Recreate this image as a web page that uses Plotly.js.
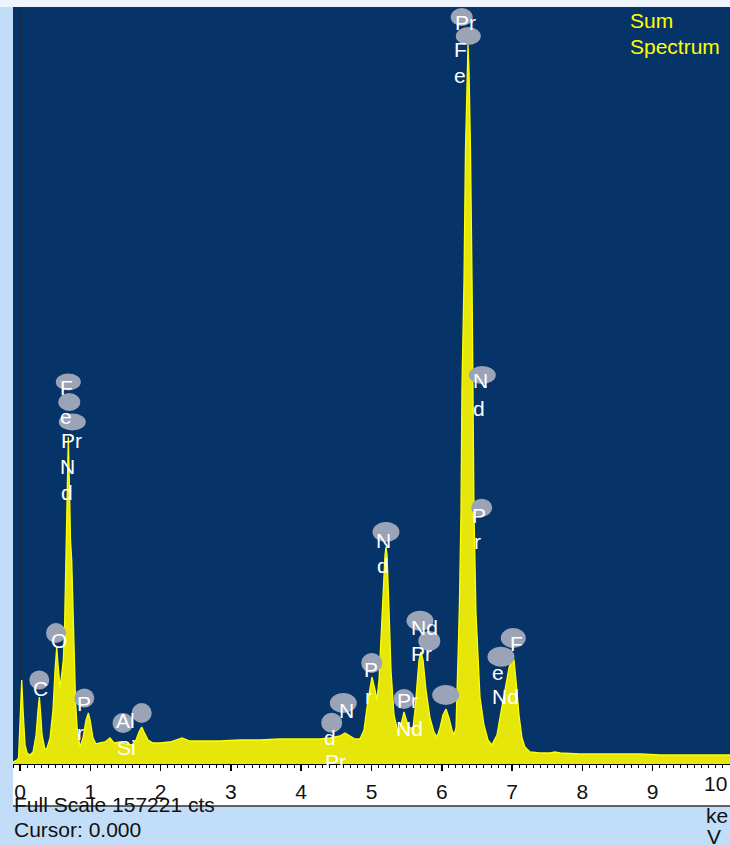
<!DOCTYPE html>
<html>
<head>
<meta charset="utf-8">
<script src="https://cdn.plot.ly/plotly-3.0.1.min.js"></script>
<style>
  html, body { margin: 0; padding: 0; background: #C2DDF8; }
  #chart { width: 730px; height: 845px; }
</style>
</head>
<body>
<div id="chart"></div>
<script>
// ---- Data ----
const energyKeV = [
  -0.100, -0.043, -0.021, 0.007, 0.024, 0.043, 0.071, 0.100, 0.142, 0.185,
  0.228, 0.256, 0.275, 0.292, 0.313, 0.356, 0.384, 0.427, 0.469, 0.498,
  0.522, 0.541, 0.569, 0.597, 0.616, 0.633, 0.654, 0.673, 0.687, 0.701,
  0.718, 0.735, 0.754, 0.768, 0.789, 0.811, 0.839, 0.853, 0.896, 0.939,
  0.972, 0.996, 1.038, 1.081, 1.138, 1.209, 1.280, 1.337, 1.422, 1.508,
  1.593, 1.650, 1.693, 1.731, 1.764, 1.821, 1.892, 1.991, 2.134, 2.304,
  2.418, 2.560, 2.845, 3.129, 3.414, 3.698, 3.983, 4.267, 4.410, 4.552,
  4.623, 4.694, 4.765, 4.836, 4.893, 4.950, 5.007, 5.050, 5.078, 5.107,
  5.135, 5.164, 5.192, 5.206, 5.221, 5.249, 5.277, 5.320, 5.377, 5.420,
  5.462, 5.505, 5.548, 5.590, 5.619, 5.647, 5.676, 5.704, 5.733, 5.775,
  5.832, 5.889, 5.932, 5.974, 6.017, 6.060, 6.102, 6.145, 6.174, 6.202,
  6.216, 6.238, 6.252, 6.273, 6.287, 6.316, 6.337, 6.358, 6.373, 6.387,
  6.408, 6.430, 6.444, 6.458, 6.486, 6.543, 6.600, 6.657, 6.710, 6.785,
  6.842, 6.899, 6.956, 6.999, 7.027, 7.055, 7.098, 7.141, 7.183, 7.255,
  7.397, 7.539, 7.610, 7.681, 7.966, 8.250, 8.535, 8.819, 9.104, 9.388,
  9.673, 10.100
];
const counts = [
  415, 831, 1246, 11215, 17446, 11215, 3946, 2285, 1869, 2492,
  6023, 11215, 13915, 10800, 6023, 2908, 3323, 5400, 11215, 19523,
  24300, 20561, 15784, 19107, 21600, 27830, 42369, 58984, 67915, 58984,
  46523, 42369, 29907, 21600, 13292, 7685, 4569, 3531, 5400, 9138,
  10592, 9138, 5400, 4154, 4361, 4569, 5400, 4361, 4569, 4154,
  3946, 4985, 6646, 7685, 6646, 4985, 4361, 4361, 4569, 5400,
  4777, 4777, 4777, 4985, 4985, 5192, 5192, 5192, 5400, 5815,
  6438, 5815, 5192, 5192, 7061, 13292, 18069, 15369, 13292, 17446,
  25754, 36138, 43407, 45069, 43407, 31984, 19523, 10177, 6438, 8100,
  10800, 8723, 7477, 7477, 11215, 16407, 21600, 23261, 21600, 15369,
  9554, 6646, 5608, 7477, 10177, 11423, 9554, 7061, 6023, 7477,
  13292, 25754, 34061, 52130, 77676, 100522, 127522, 144137, 149329, 144137,
  127522, 100522, 77676, 52130, 31361, 13915, 8100, 4985, 3946, 6023,
  10800, 15369, 19938, 22015, 21600, 17446, 10177, 5400, 3531, 2492,
  2285, 2285, 2492, 2285, 2077, 2077, 2077, 2077, 1869, 1869,
  1869, 1869
];
const fullScale = 157221;
const tickValues = [0, 1, 2, 3, 4, 5, 6, 7, 8, 9, 10];
const tickLabels = ["0", "1", "2", "3", "4", "5", "6", "7", "8", "9", "10"];

// ---- Layout helpers (pixel -> paper) ----
const W = 730, H = 845;
const M = { l: 13, r: 0, t: 7, b: 81 };
const PW = W - M.l - M.r, PH = H - M.t - M.b;
const px = x => (x - M.l) / PW;
const py = y => (H - M.b - y) / PH;

const FONT = "Liberation Sans, Arial, Helvetica, sans-serif";
const FS = 21;

// element label texts with their pixel placement (layout)
const labelSpec = [
  ["C", 40.7, 688], ["O", 59, 640],
  ["P", 84, 703], ["r", 80.7, 732],
  ["Al", 125, 720], ["Si", 126.7, 747],
  ["F", 66.7, 388], ["e", 66, 416], ["Pr", 71.7, 440], ["N", 67.7, 467], ["d", 66.7, 492],
  ["Pr", 465, 23], ["F", 460, 49], ["e", 460, 76],
  ["N", 480, 380], ["d", 479, 408],
  ["P", 479.3, 515], ["r", 477.7, 541.7],
  ["N", 383.3, 540], ["d", 382.7, 565],
  ["P", 371, 669], ["r", 368.3, 696],
  ["Nd", 424, 627], ["Pr", 421.7, 653],
  ["Pr", 407.3, 700.7], ["Nd", 410, 728],
  ["F", 516.7, 643], ["e", 498.3, 672.7], ["Nd", 505, 696.7],
  ["N", 346.7, 710], ["d", 330, 737], ["Pr", 335, 761.7]
];
// grey ellipse markers (cx, cy, w, h) in pixels
const ellipseSpec = [
  [39.3, 680, 20, 19], [56, 633, 20, 20], [84.3, 698, 20, 19],
  [123, 723, 21, 20], [141.7, 713, 20, 20],
  [68.3, 382, 25, 17], [69.3, 402, 22, 18], [72.3, 422, 27, 17],
  [461.7, 17, 22, 18], [468.3, 36, 25, 18],
  [482.3, 375, 27, 18], [481.7, 507.7, 21, 18],
  [386, 532, 27, 20], [371.7, 663, 21, 20],
  [420, 620.7, 27, 20], [429.3, 641, 22, 20],
  [404, 699, 21, 20], [445.7, 695, 27, 20],
  [513.3, 638, 25, 20], [501, 656.7, 27, 20],
  [343.3, 703, 27, 20], [331.7, 722.7, 21, 20]
];

const shapes = [
  // top pale strip
  { type: "rect", xref: "paper", yref: "paper", x0: px(0), x1: px(W), y0: py(M.t), y1: py(0),
    fillcolor: "#EEF4FC", line: { width: 0 }, layer: "below" },
  // white axis strip
  { type: "rect", xref: "paper", yref: "paper", x0: px(13), x1: px(W), y0: py(806), y1: py(764),
    fillcolor: "#FFFFFF", line: { width: 0 }, layer: "below" },
  // dark separator line under the axis strip
  { type: "line", xref: "paper", yref: "paper", x0: px(13), x1: px(W), y0: py(806), y1: py(806),
    line: { color: "#333333", width: 1.5 }, layer: "above" }
];
ellipseSpec.forEach(e => {
  shapes.push({ type: "circle", xref: "paper", yref: "paper",
    x0: px(e[0] - e[2] / 2), x1: px(e[0] + e[2] / 2),
    y0: py(e[1] + e[3] / 2), y1: py(e[1] - e[3] / 2),
    fillcolor: "#9BA3B6", line: { width: 0 }, layer: "above" });
});

const annotations = labelSpec.map(l => ({
  text: l[0], xref: "paper", yref: "paper", x: px(l[1]), y: py(l[2]),
  xanchor: "center", yanchor: "middle", showarrow: false,
  font: { family: FONT, size: FS, color: "#FFFFFF" }
}));

// the last tick label sits flush against the right edge, as in the reference
const lastIdx = tickLabels.length - 1;
annotations.push(
  { text: tickLabels[lastIdx], xref: "paper", yref: "paper", x: px(729), y: py(783),
    xanchor: "right", yanchor: "middle", showarrow: false, font: { family: FONT, size: FS, color: "#111111" } },
  { text: "Sum", xref: "paper", yref: "paper", x: px(628), y: py(21), xanchor: "left", yanchor: "middle",
    showarrow: false, font: { family: FONT, size: FS, color: "#FFFF00" } },
  { text: "Spectrum", xref: "paper", yref: "paper", x: px(628), y: py(46), xanchor: "left", yanchor: "middle",
    showarrow: false, font: { family: FONT, size: FS, color: "#FFFF00" } },
  { text: "Full Scale " + fullScale + " cts", xref: "paper", yref: "paper", x: px(12), y: py(804),
    xanchor: "left", yanchor: "middle", showarrow: false, font: { family: FONT, size: FS, color: "#111111" } },
  { text: "Cursor: 0.000", xref: "paper", yref: "paper", x: px(12), y: py(829),
    xanchor: "left", yanchor: "middle", showarrow: false, font: { family: FONT, size: FS, color: "#111111" } },
  { text: "ke", xref: "paper", yref: "paper", x: px(717), y: py(815),
    xanchor: "center", yanchor: "middle", showarrow: false, font: { family: FONT, size: FS, color: "#111111" } },
  { text: "V", xref: "paper", yref: "paper", x: px(714), y: py(836),
    xanchor: "center", yanchor: "middle", showarrow: false, font: { family: FONT, size: FS, color: "#111111" } }
);

const trace = {
  type: "scatter", mode: "lines",
  x: energyKeV, y: counts,
  fill: "tozeroy", fillcolor: "#E6E60A",
  line: { color: "#FFFF00", width: 1.3 },
  hoverinfo: "skip"
};

const layout = {
  width: W, height: H,
  margin: M,
  paper_bgcolor: "#C2DDF8",
  plot_bgcolor: "#073468",
  showlegend: false,
  xaxis: {
    range: [-0.1, 10.1],
    tickvals: tickValues.slice(0, lastIdx), ticktext: tickLabels.slice(0, lastIdx),
    ticks: "outside", ticklen: 6, tickwidth: 1.5, tickcolor: "#000000",
    ticklabelstandoff: 3,
    minor: { dtick: 0.1, ticks: "outside", ticklen: 3, tickwidth: 1, tickcolor: "#000000", showgrid: false },
    showgrid: false,
    zeroline: true, zerolinecolor: "#1B2B42", zerolinewidth: 1.5,
    showline: true, linecolor: "#000000", linewidth: 1,
    tickfont: { family: FONT, size: FS, color: "#111111" },
    fixedrange: true
  },
  yaxis: {
    range: [0, fullScale],
    visible: false, showgrid: false, zeroline: false,
    fixedrange: true
  },
  shapes: shapes,
  annotations: annotations
};

Plotly.newPlot("chart", [trace], layout, { displayModeBar: false, staticPlot: true });
</script>
</body>
</html>
